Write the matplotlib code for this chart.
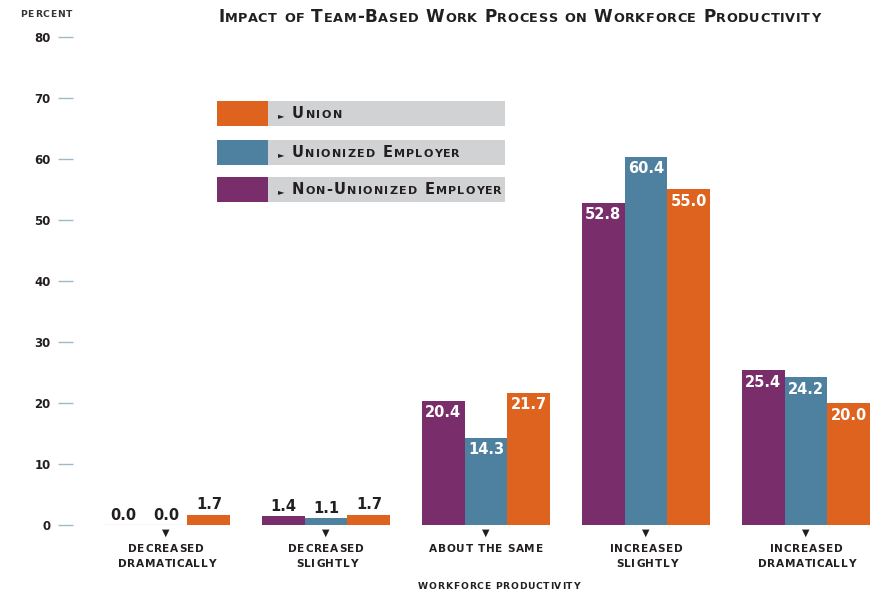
import matplotlib.pyplot as plt
from matplotlib.patches import Rectangle
from matplotlib.font_manager import FontProperties

categories = ["DECREASED\nDRAMATICALLY", "DECREASED\nSLIGHTLY", "ABOUT THE SAME",
              "INCREASED\nSLIGHTLY", "INCREASED\nDRAMATICALLY"]
series_names = ["Non-Unionized Employer", "Unionized Employer", "Union"]
non_unionized = [0.0, 1.4, 20.4, 52.8, 25.4]
unionized = [0.0, 1.1, 14.3, 60.4, 24.2]
union = [1.7, 1.7, 21.7, 55.0, 20.0]
y_ticks = [0, 10, 20, 30, 40, 50, 60, 70, 80]

colors = ["#7a2d6b", "#4e81a0", "#de631e"]
zero_edge = ["#ddd3dc", "#d5dee6", "#f2d0bd"]
dark = "#231f20"
body_font = "DejaVu Sans"
title_font = "DejaVu Sans"

W, H = 876, 592
fig = plt.figure(figsize=(W / 100, H / 100), dpi=100)
renderer = fig.canvas.get_renderer()


def ink(s, prop):
    return renderer.get_text_width_height_descent(s, prop, ismath=False)[0]


def tracked(text, x, y, size, family, tracking=0.0, target=None, ha="left",
            caps=False, ratio=0.78, color=dark, weight="bold"):
    """Letter-spaced text on a baseline at pixel (x, y from top); optional small caps."""
    runs = []
    for ch in text:
        small = caps and ch.islower()
        if runs and runs[-1][1] == small:
            runs[-1][0] += ch.upper()
        else:
            runs.append([ch.upper(), small])
    laid = []
    for s, small in runs:
        prop = FontProperties(family=family, weight=weight,
                              size=size * ratio if small else size)
        h = ink("H", prop)
        starts = [0.0] + [ink(s[:k] + "H", prop) - h for k in range(1, len(s))]
        laid.append((s, prop, starts, ink(s + "H", prop) - h))
    n = len(text)
    natural = sum(r[3] for r in laid)
    if target is not None:
        tracking = (target - natural) / (n - 1)
    total = natural + tracking * (n - 1)
    cx = x - {"left": 0, "center": total / 2, "right": total}[ha]
    for s, prop, starts, adv in laid:
        for k, ch in enumerate(s):
            if ch != " ":
                fig.text((cx + starts[k] + k * tracking) / W, 1 - y / H, ch,
                         fontproperties=prop, color=color, ha="left", va="baseline")
        cx += adv + len(s) * tracking


ax = fig.add_axes([73 / W, (H - 525) / H, (W - 73) / W, (525 - 37) / H])

x = list(range(len(categories)))
width = 0.268
all_series = [non_unionized, unionized, union]
for k, vals in enumerate(all_series):
    pos = [i + (k - 1) * width for i in x]
    edges = [zero_edge[k] if v == 0 else colors[k] for v in vals]
    ax.bar(pos, vals, width, color=colors[k], edgecolor=edges,
           linewidth=[1.0 if v == 0 else 0 for v in vals])
    for p, v in zip(pos, vals):
        inside = v >= 10
        ax.annotate(f"{v:.1f}", xy=(p, v), xytext=(0, -12 if inside else 10),
                    textcoords="offset pixels", ha="center", va="center",
                    color="white" if inside else dark, fontsize=10.5,
                    fontweight="bold", family=body_font)

ax.set_xlim(-(166 - 73) / 160, 4 + (W - 806) / 160)
ax.set_ylim(0, 80)
ax.set_yticks(y_ticks)
ax.set_yticklabels([str(t) for t in y_ticks], fontsize=8.5, fontweight="bold",
                   color=dark, family=body_font)
ax.tick_params(axis="y", length=11, width=1, color="#9fb8ca", pad=5)
ax.set_xticks([])
for s in ax.spines.values():
    s.set_visible(False)

for i, c in zip(x, categories):
    px = ax.transData.transform((i, 0))[0]
    fig.text(px / W, 1 - 533 / H, "\u25bc", ha="center", va="center", fontsize=7,
             color=dark, family=body_font)
    for j, line in enumerate(c.split("\n")):
        tracked(line, px, 552 + j * 15, 7.6, body_font, tracking=0.7, ha="center")

tracked("WORKFORCE PRODUCTIVITY", 499, 589, 6.6, body_font, target=162, ha="center")
tracked("PERCENT", 20, 17, 6.6, body_font, target=52, color="#333333")

tracked("Impact of Team-Based Work Process on Workforce Productivity",
        218, 22, 12.2, title_font, target=602, caps=True, ratio=0.76)

# legend
legend_rows = [("Union", colors[2], 101, 50), ("Unionized Employer", colors[1], 140, 168),
               ("Non-Unionized Employer", colors[0], 177, 210)]
for name, col, top, span in legend_rows:
    fig.add_artist(Rectangle((217 / W, 1 - (top + 25) / H), 51 / W, 25 / H,
                             transform=fig.transFigure, color=col, lw=0))
    fig.add_artist(Rectangle((268 / W, 1 - (top + 25) / H), 237 / W, 25 / H,
                             transform=fig.transFigure, color="#d1d2d4", lw=0))
    fig.text(278 / W, 1 - (top + 17) / H, "\u25ba", fontsize=6, color=dark,
             ha="left", va="baseline", family=body_font)
    tracked(name, 292, top + 17, 10.5, title_font, target=span, caps=True, ratio=0.76)

fig.savefig("out.png", dpi=100)
